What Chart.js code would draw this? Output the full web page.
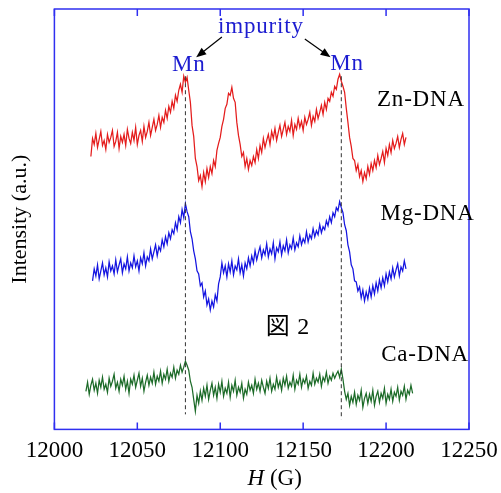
<!DOCTYPE html>
<html>
<head>
<meta charset="utf-8">
<script src="https://cdn.jsdelivr.net/npm/chart.js@4"></script>
<style>
  html, body { margin: 0; padding: 0; background: #fff; }
</style>
</head>
<body>
<canvas id="esr" width="501" height="493"></canvas>
<script>
// ---------------------------------------------------------------
// Data: field H (G) and intensity (a.u.), 1 G steps
// ---------------------------------------------------------------
const fields = [
  12018, 12019, 12020, 12021, 12022, 12023, 12024, 12025, 12026, 12027,
  12028, 12029, 12030, 12031, 12032, 12033, 12034, 12035, 12036, 12037,
  12038, 12039, 12040, 12041, 12042, 12043, 12044, 12045, 12046, 12047,
  12048, 12049, 12050, 12051, 12052, 12053, 12054, 12055, 12056, 12057,
  12058, 12059, 12060, 12061, 12062, 12063, 12064, 12065, 12066, 12067,
  12068, 12069, 12070, 12071, 12072, 12073, 12074, 12075, 12076, 12077,
  12078, 12079, 12080, 12081, 12082, 12083, 12084, 12085, 12086, 12087,
  12088, 12089, 12090, 12091, 12092, 12093, 12094, 12095, 12096, 12097,
  12098, 12099, 12100, 12101, 12102, 12103, 12104, 12105, 12106, 12107,
  12108, 12109, 12110, 12111, 12112, 12113, 12114, 12115, 12116, 12117,
  12118, 12119, 12120, 12121, 12122, 12123, 12124, 12125, 12126, 12127,
  12128, 12129, 12130, 12131, 12132, 12133, 12134, 12135, 12136, 12137,
  12138, 12139, 12140, 12141, 12142, 12143, 12144, 12145, 12146, 12147,
  12148, 12149, 12150, 12151, 12152, 12153, 12154, 12155, 12156, 12157,
  12158, 12159, 12160, 12161, 12162, 12163, 12164, 12165, 12166, 12167,
  12168, 12169, 12170, 12171, 12172, 12173, 12174, 12175, 12176, 12177,
  12178, 12179, 12180, 12181, 12182, 12183, 12184, 12185, 12186, 12187,
  12188, 12189, 12190, 12191, 12192, 12193, 12194, 12195, 12196, 12197,
  12198, 12199, 12200, 12201, 12202, 12203, 12204, 12205, 12206, 12207,
  12208, 12209, 12210, 12211, 12212, 12213, 12214, 12215, 12216, 12217
];

const znDNA = [
  null, null, null, null, 272, 290, 284, 295, 281, 289,
  297, 283, 288, 279, 294, 286, 291, 298, 282, 287,
  296, 280, 292, 286, 294, 283, 299, 290, 285, 296,
  288, 301, 284, 293, 298, 287, 302, 291, 297, 306,
  293, 301, 309, 298, 304, 313, 301, 311, 306, 318,
  310, 322, 316, 327, 320, 333, 327, 338, 344, 336,
  352, 346, 351, 338, 326, 303, 292, 270, 262, 248,
  253, 242, 256, 247, 260, 251, 262, 255, 268, 262,
  278, 285, 291, 302, 309, 320, 324, 335, 333, 341,
  330, 326, 306, 293, 284, 272, 276, 262, 270, 259,
  268, 263, 272, 266, 279, 270, 283, 276, 290, 281,
  288, 294, 284, 297, 290, 300, 288, 296, 303, 292,
  299, 306, 294, 302, 297, 308, 293, 304, 299, 310,
  301, 307, 298, 311, 304, 309, 316, 303, 312, 307,
  319, 310, 316, 323, 314, 326, 319, 330, 327, 336,
  332, 342, 339, 349, 354, 347, 342, 336, 320, 306,
  291, 282, 270, 268, 258, 264, 252, 258, 247, 256,
  250, 262, 254, 265, 258, 268, 261, 273, 264, 270,
  277, 266, 280, 273, 284, 276, 288, 280, 285, 292,
  281, 289, 295, 284, 291, null, null, null, null, null
];

const mgDNA = [
  null, null, null, null, null, 148, 160, 153, 164, 150,
  158, 166, 154, 161, 152, 167, 158, 163, 155, 169,
  157, 164, 170, 156, 165, 160, 172, 158, 166, 161,
  173, 162, 168, 158, 171, 165, 176, 163, 172, 168,
  180, 170, 177, 184, 173, 182, 178, 189, 182, 192,
  185, 196, 190, 199, 195, 206, 199, 212, 206, 219,
  211, 225, 217, 212, 197, 190, 178, 170, 158, 155,
  143, 146, 132, 138, 124, 130, 119, 128, 122, 134,
  128, 145, 152, 166, 156, 163, 152, 165, 157, 168,
  154, 163, 159, 170, 156, 164, 153, 166, 160, 171,
  163, 173, 166, 178, 169, 176, 182, 171, 179, 174,
  185, 172, 180, 175, 186, 170, 181, 177, 187, 174,
  183, 178, 189, 176, 184, 180, 191, 179, 186, 182,
  193, 184, 190, 186, 197, 187, 194, 190, 200, 192,
  198, 194, 204, 196, 202, 199, 208, 203, 212, 206,
  216, 212, 221, 218, 227, 221, 216, 204, 198, 184,
  177, 164, 160, 148, 147, 138, 142, 131, 139, 128,
  137, 130, 141, 132, 143, 135, 146, 138, 149, 141,
  151, 143, 155, 147, 157, 150, 161, 152, 159, 165,
  153, 162, 158, 168, 160, null, null, null, null, null
];

const caDNA = [
  null, 38, 47, 35, 44, 50, 39, 46, 36, 49,
  42, 52, 40, 45, 37, 51, 43, 48, 55, 41,
  47, 38, 50, 44, 53, 40, 48, 36, 50, 45,
  54, 42, 49, 56, 43, 51, 38, 47, 54, 44,
  52, 46, 57, 45, 53, 48, 58, 46, 55, 50,
  60, 48, 56, 52, 62, 51, 59, 55, 64, 57,
  62, 68, 64, 59, 48, 42, 30, 18, 34, 26,
  38, 29, 41, 33, 44, 30, 39, 46, 34, 42,
  31, 45, 37, 48, 33, 41, 36, 47, 32, 44,
  38, 49, 34, 42, 37, 46, 31, 40, 35, 47,
  39, 44, 36, 50, 40, 46, 38, 49, 42, 36,
  48, 41, 51, 38, 45, 40, 52, 42, 48, 39,
  51, 44, 53, 41, 47, 43, 54, 40, 49, 45,
  55, 42, 50, 46, 53, 41, 48, 44, 56, 45,
  51, 47, 55, 43, 52, 48, 57, 46, 53, 49,
  56, 51, 55, 58, 52, 60, 50, 38, 30, 36,
  24, 33, 27, 37, 25, 34, 29, 39, 22, 31,
  36, 26, 35, 28, 39, 24, 33, 38, 27, 36,
  31, 41, 26, 35, 30, 40, 28, 37, 33, 42,
  29, 38, 34, 43, 30, 39, 35, 44, 36, null
];

const seriesNames = ["Zn-DNA", "Mg-DNA", "Ca-DNA"];
const xTickValues = [12000, 12050, 12100, 12150, 12200, 12250];

// Mn line positions (G)
const mnFields = [12079, 12173];

// ---------------------------------------------------------------
// Styles
// ---------------------------------------------------------------
const SERIF = "'Liberation Serif', 'DejaVu Serif', serif";
const FRAME_BLUE = "#2f2ff0";
const LABEL_BLUE = "#1c1cd0";
const lineColors = ["#e41c1c", "#1414e0", "#1c6b28"];

function toPoints(arr) {
  return fields.map((f, i) => ({ x: f, y: arr[i] }));
}

// ---------------------------------------------------------------
// Annotations (frame, inward ticks, dashed lines, arrows, texts)
// ---------------------------------------------------------------
const annotations = {
  id: "annotations",
  afterDraw(chart) {
    const { ctx, chartArea: a, scales: { x, y } } = chart;
    ctx.save();

    // frame
    ctx.strokeStyle = FRAME_BLUE;
    ctx.lineWidth = 1.5;
    ctx.strokeRect(a.left, a.top, a.right - a.left, a.bottom - a.top);

    // inward ticks, top and bottom
    xTickValues.forEach(v => {
      const px = x.getPixelForValue(v);
      ctx.beginPath();
      ctx.moveTo(px, a.bottom); ctx.lineTo(px, a.bottom - 7);
      ctx.moveTo(px, a.top); ctx.lineTo(px, a.top + 7);
      ctx.stroke();
    });

    // dashed Mn lines
    ctx.strokeStyle = "#333";
    ctx.lineWidth = 1;
    ctx.setLineDash([4, 3]);
    const dashBottoms = [15, 10];
    mnFields.forEach((f, i) => {
      const px = x.getPixelForValue(f);
      ctx.beginPath();
      ctx.moveTo(px, y.getPixelForValue(352));
      ctx.lineTo(px, y.getPixelForValue(dashBottoms[i]));
      ctx.stroke();
    });
    ctx.setLineDash([]);

    // arrows from "impurity" to each "Mn"
    const arrows = [
      [12101, 391, 12085.5, 371],
      [12151, 389, 12166.5, 371]
    ];
    ctx.strokeStyle = "#000";
    ctx.fillStyle = "#000";
    ctx.lineWidth = 1.2;
    arrows.forEach(([x0, y0, x1, y1]) => {
      const ax = x.getPixelForValue(x0), ay = y.getPixelForValue(y0);
      const bx = x.getPixelForValue(x1), by = y.getPixelForValue(y1);
      const ang = Math.atan2(by - ay, bx - ax);
      ctx.beginPath();
      ctx.moveTo(ax, ay);
      ctx.lineTo(bx - 6 * Math.cos(ang), by - 6 * Math.sin(ang));
      ctx.stroke();
      ctx.beginPath();
      ctx.moveTo(bx, by);
      ctx.lineTo(bx - 10 * Math.cos(ang) + 4 * Math.sin(ang), by - 10 * Math.sin(ang) - 4 * Math.cos(ang));
      ctx.lineTo(bx - 10 * Math.cos(ang) - 4 * Math.sin(ang), by - 10 * Math.sin(ang) + 4 * Math.cos(ang));
      ctx.closePath();
      ctx.fill();
    });

    // texts
    ctx.textAlign = "center";
    ctx.textBaseline = "middle";
    ctx.letterSpacing = "0.8px";
    const text = (s, gx, gy, size, color) => {
      ctx.font = size + "px " + SERIF;
      ctx.fillStyle = color;
      ctx.fillText(s, x.getPixelForValue(gx), y.getPixelForValue(gy));
    };
    text("impurity", 12124.5, 401, 23, LABEL_BLUE);
    text("Mn", 12081, 363, 23, LABEL_BLUE);
    text("Mn", 12176.5, 364, 23, LABEL_BLUE);
    text(seriesNames[0], 12221, 328, 23, "#000");
    text(seriesNames[1], 12225, 215, 23, "#000");
    text(seriesNames[2], 12223.5, 74, 23, "#000");
    ctx.font = "24px " + SERIF + ", 'Noto Sans CJK JP'";
    ctx.fillStyle = "#000";
    ctx.fillText("図 2", x.getPixelForValue(12140.8), y.getPixelForValue(101));

    // x axis title: H (G), H in italic
    ctx.letterSpacing = "0px";
    ctx.textAlign = "left";
    ctx.font = "italic 23px " + SERIF;
    const wH = ctx.measureText("H").width;
    ctx.font = "23px " + SERIF;
    const wG = ctx.measureText(" (G)").width;
    const cx = (a.left + a.right) / 2 + 13;
    const ty = 479;
    ctx.font = "italic 23px " + SERIF;
    ctx.fillText("H", cx - (wH + wG) / 2, ty);
    ctx.font = "23px " + SERIF;
    ctx.fillText(" (G)", cx - (wH + wG) / 2 + wH, ty);

    ctx.restore();
  }
};

// ---------------------------------------------------------------
// Chart
// ---------------------------------------------------------------
new Chart(document.getElementById("esr").getContext("2d"), {
  type: "line",
  data: {
    datasets: [znDNA, mgDNA, caDNA].map((arr, i) => ({
      label: seriesNames[i],
      data: toPoints(arr),
      borderColor: lineColors[i],
      borderWidth: 1.25,
      pointRadius: 0,
      tension: 0,
      spanGaps: false
    }))
  },
  options: {
    responsive: false,
    animation: false,
    devicePixelRatio: 1,
    layout: { padding: { left: 7, right: 32, top: 9, bottom: 20 } },
    plugins: { legend: { display: false }, tooltip: { enabled: false } },
    scales: {
      x: {
        type: "linear",
        min: 12000,
        max: 12250,
        afterBuildTicks: scale => { scale.ticks = xTickValues.map(v => ({ value: v })); },
        afterFit: scale => { scale.paddingLeft = 0; scale.paddingRight = 0; },
        grid: { display: false, drawTicks: false },
        border: { display: false },
        ticks: {
          padding: 8,
          color: "#000",
          font: { family: SERIF, size: 23 },
          maxRotation: 0,
          callback: v => String(v)
        }
      },
      y: {
        min: 0,
        max: 419,
        grid: { display: false, drawTicks: false },
        border: { display: false },
        ticks: { display: false },
        title: {
          display: true,
          text: "Intensity (a.u.)",
          color: "#000",
          font: { family: SERIF, size: 22 },
          padding: { top: 0, bottom: 21 }
        }
      }
    }
  },
  plugins: [annotations]
});
</script>
</body>
</html>
